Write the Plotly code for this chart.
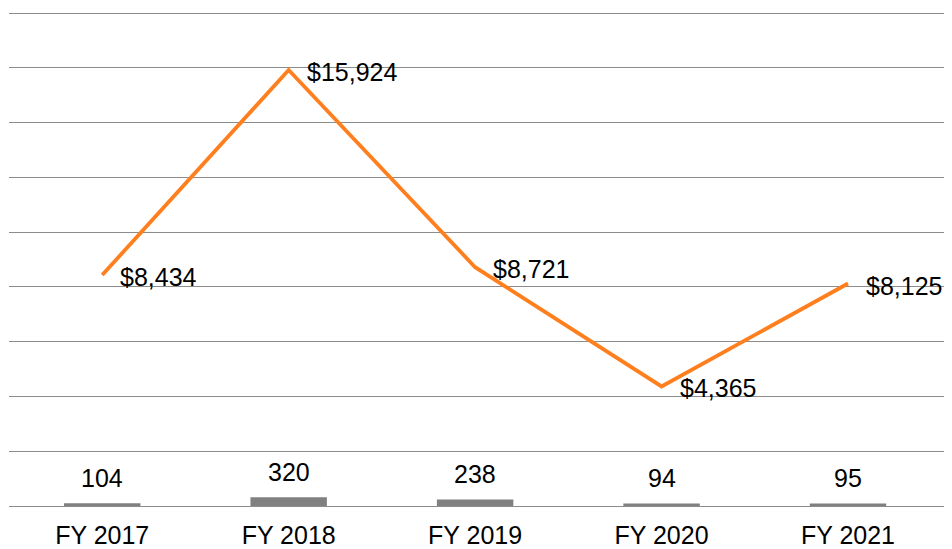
import plotly.graph_objects as go

# Fiscal-year data
years = ["FY 2017", "FY 2018", "FY 2019", "FY 2020", "FY 2021"]
counts = [104, 320, 238, 94, 95]
amounts = [8434, 15924, 8721, 4365, 8125]

FONT = "Liberation Sans, Arial, sans-serif"
GRID = "#8c8c8c"

fig = go.Figure()

fig.add_trace(go.Bar(
    x=years, y=counts,
    marker=dict(color="#808080", line=dict(width=0)),
    width=0.41,
    hoverinfo="skip",
))

fig.add_trace(go.Scatter(
    x=years, y=amounts,
    mode="lines",
    line=dict(color="#FF7F1E", width=3.8),
    hoverinfo="skip",
))

annotations = []
for yr, c in zip(years, counts):
    annotations.append(dict(
        x=yr, y=c, text=f"{c}", showarrow=False,
        xanchor="center", yanchor="bottom", yshift=9,
        font=dict(family=FONT, size=25, color="#000000"),
    ))
for yr, a in zip(years, amounts):
    annotations.append(dict(
        x=yr, y=a, text=f"${a:,}", showarrow=False,
        xanchor="left", yanchor="middle", xshift=16, yshift=-2,
        font=dict(family=FONT, size=25, color="#000000"),
    ))

fig.update_layout(
    width=952, height=549,
    margin=dict(l=9, r=8, t=12, b=43),
    paper_bgcolor="white", plot_bgcolor="white",
    showlegend=False,
    bargap=0.59,
    annotations=annotations,
    font=dict(family=FONT, size=25, color="#000000"),
    xaxis=dict(
        type="category", automargin=False,
        showgrid=False, zeroline=False,
        showline=True, linecolor=GRID, linewidth=1,
        ticks="", ticklabelstandoff=7,
        tickfont=dict(family=FONT, size=25, color="#000000"),
    ),
    yaxis=dict(
        range=[0, 18040], tick0=0, dtick=2000, automargin=False,
        showgrid=True, gridcolor=GRID, gridwidth=1,
        zeroline=False, showticklabels=False, ticks="",
    ),
)

fig.write_html("out.html")
